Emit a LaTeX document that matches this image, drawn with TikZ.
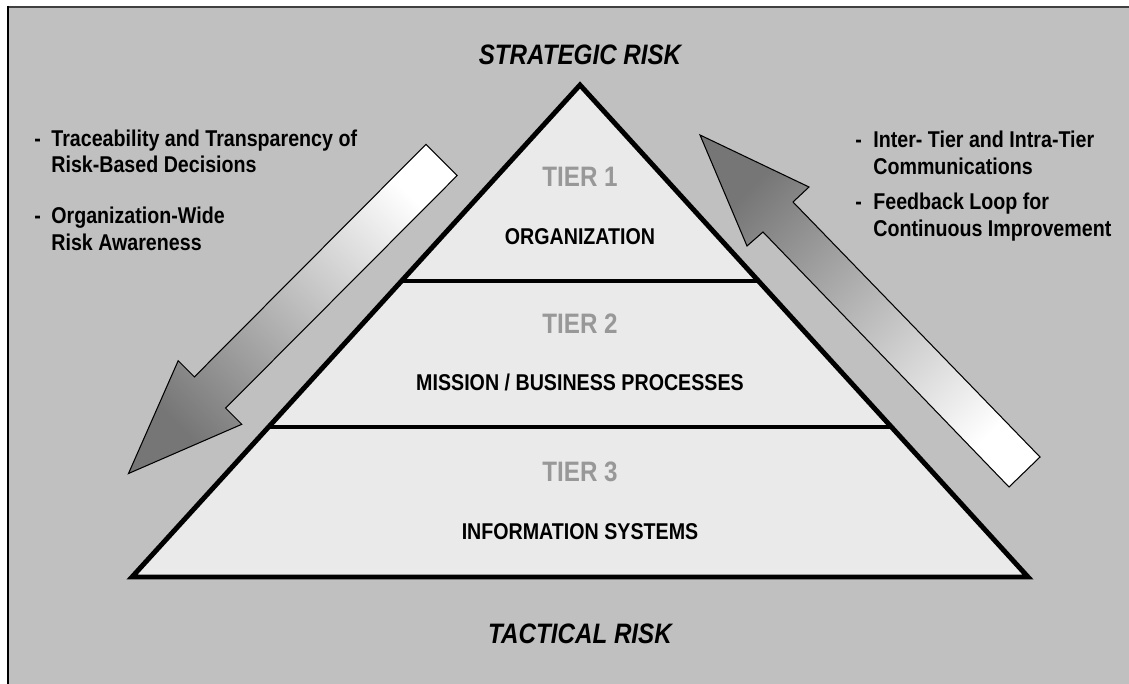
\documentclass[tikz,border=0pt]{standalone}
\usepackage{fontspec}
\setmainfont{Liberation Sans}[FakeStretch=0.86]
\definecolor{backgray}{RGB}{192,192,192}
\definecolor{tierfill}{RGB}{234,234,234}
\definecolor{tiergray}{RGB}{152,152,152}
\definecolor{arrowdark}{RGB}{118,118,118}

\begin{document}
\begin{tikzpicture}[scale=0.2]
	\tikzstyle{every node}+=[inner sep=0pt]
	\tikzset{
	  risk/.style={font=\fontsize{16}{19}\selectfont\bfseries\itshape, anchor=base},
	  tier/.style={font=\fontsize{16}{19}\selectfont\bfseries, text=tiergray, anchor=base},
	  level/.style={font=\fontsize{13}{15}\selectfont\bfseries, anchor=base},
	  bullet/.style={font=\fontsize{13}{15}\selectfont\bfseries, anchor=base west},
	  flow/.style={draw=black, line width=0.6pt, line join=miter}
	}
	\useasboundingbox (0,0) rectangle (112.9,-68.4);
	% background panel
	\fill [backgray] (0.8,-0.7) rectangle (112.9,-68.4);
	\draw [black!75, line width=0.7pt] (0.8,-0.7) -- (112.9,-0.7);
	\draw [black, line width=1.3pt] (0.8,-0.6) -- (0.8,-68.4);
	% pyramid
	\fill [tierfill] (58,-8.5) -- (13.2,-57.7) -- (102.8,-57.7) -- cycle;
	\draw [black, line width=2.4pt] (40.15,-28.1) -- (75.85,-28.1);
	\draw [black, line width=2.4pt] (26.86,-42.7) -- (89.14,-42.7);
	\draw [black, line width=2.8pt, line join=miter] (58,-8.5) -- (13.2,-57.7) -- (102.8,-57.7) -- cycle;
	\node [risk] (strategic) at (58,-6.5) {STRATEGIC RISK};
	\node [risk] (tactical) at (58,-64.3) {TACTICAL RISK};
	\node [tier] (tier1) at (58,-18.7) {TIER 1};
	\node [level] (org) at (58,-24.5) {ORGANIZATION};
	\node [tier] (tier2) at (58,-33.3) {TIER 2};
	\node [level] (mission) at (58,-39) {MISSION / BUSINESS PROCESSES};
	\node [tier] (tier3) at (58,-48.1) {TIER 3};
	\node [level] (infosys) at (58,-53.9) {INFORMATION SYSTEMS};
	% top-down arrow
	\draw [flow, top color=white, bottom color=arrowdark, shading angle=-45]
	  (42.59,-14.44) -- (45.71,-17.56) -- (22.56,-40.81) -- (24.18,-42.43)
	  -- (12.85,-47.35) -- (17.82,-36.07) -- (19.44,-37.69) -- cycle;
	% bottom-up arrow
	\draw [flow, top color=arrowdark, bottom color=white, shading angle=45]
	  (70,-13.5) -- (80.9,-18.7) -- (79.3,-20.2) -- (104,-45.7)
	  -- (100.9,-48.7) -- (76.3,-23.2) -- (74.7,-24.6) -- cycle;
	% left notes
	\node [bullet] (ldash1) at (3.4,-14.7) {-};
	\node [bullet] (trace) at (5.1,-14.7) {Traceability and Transparency of};
	\node [bullet] (riskbased) at (5.1,-17.3) {Risk-Based Decisions};
	\node [bullet] (ldash2) at (3.4,-22.4) {-};
	\node [bullet] (orgwide) at (5.1,-22.4) {Organization-Wide};
	\node [bullet] (aware) at (5.1,-25.1) {Risk Awareness};
	% right notes
	\node [bullet] (rdash1) at (85.5,-14.8) {-};
	\node [bullet] (inter) at (87.3,-14.8) {Inter- Tier and Intra-Tier};
	\node [bullet] (comms) at (87.3,-17.5) {Communications};
	\node [bullet] (rdash2) at (85.5,-21.0) {-};
	\node [bullet] (feedback) at (87.3,-21.0) {Feedback Loop for};
	\node [bullet] (improve) at (87.3,-23.7) {Continuous Improvement};
\end{tikzpicture}
\end{document}
